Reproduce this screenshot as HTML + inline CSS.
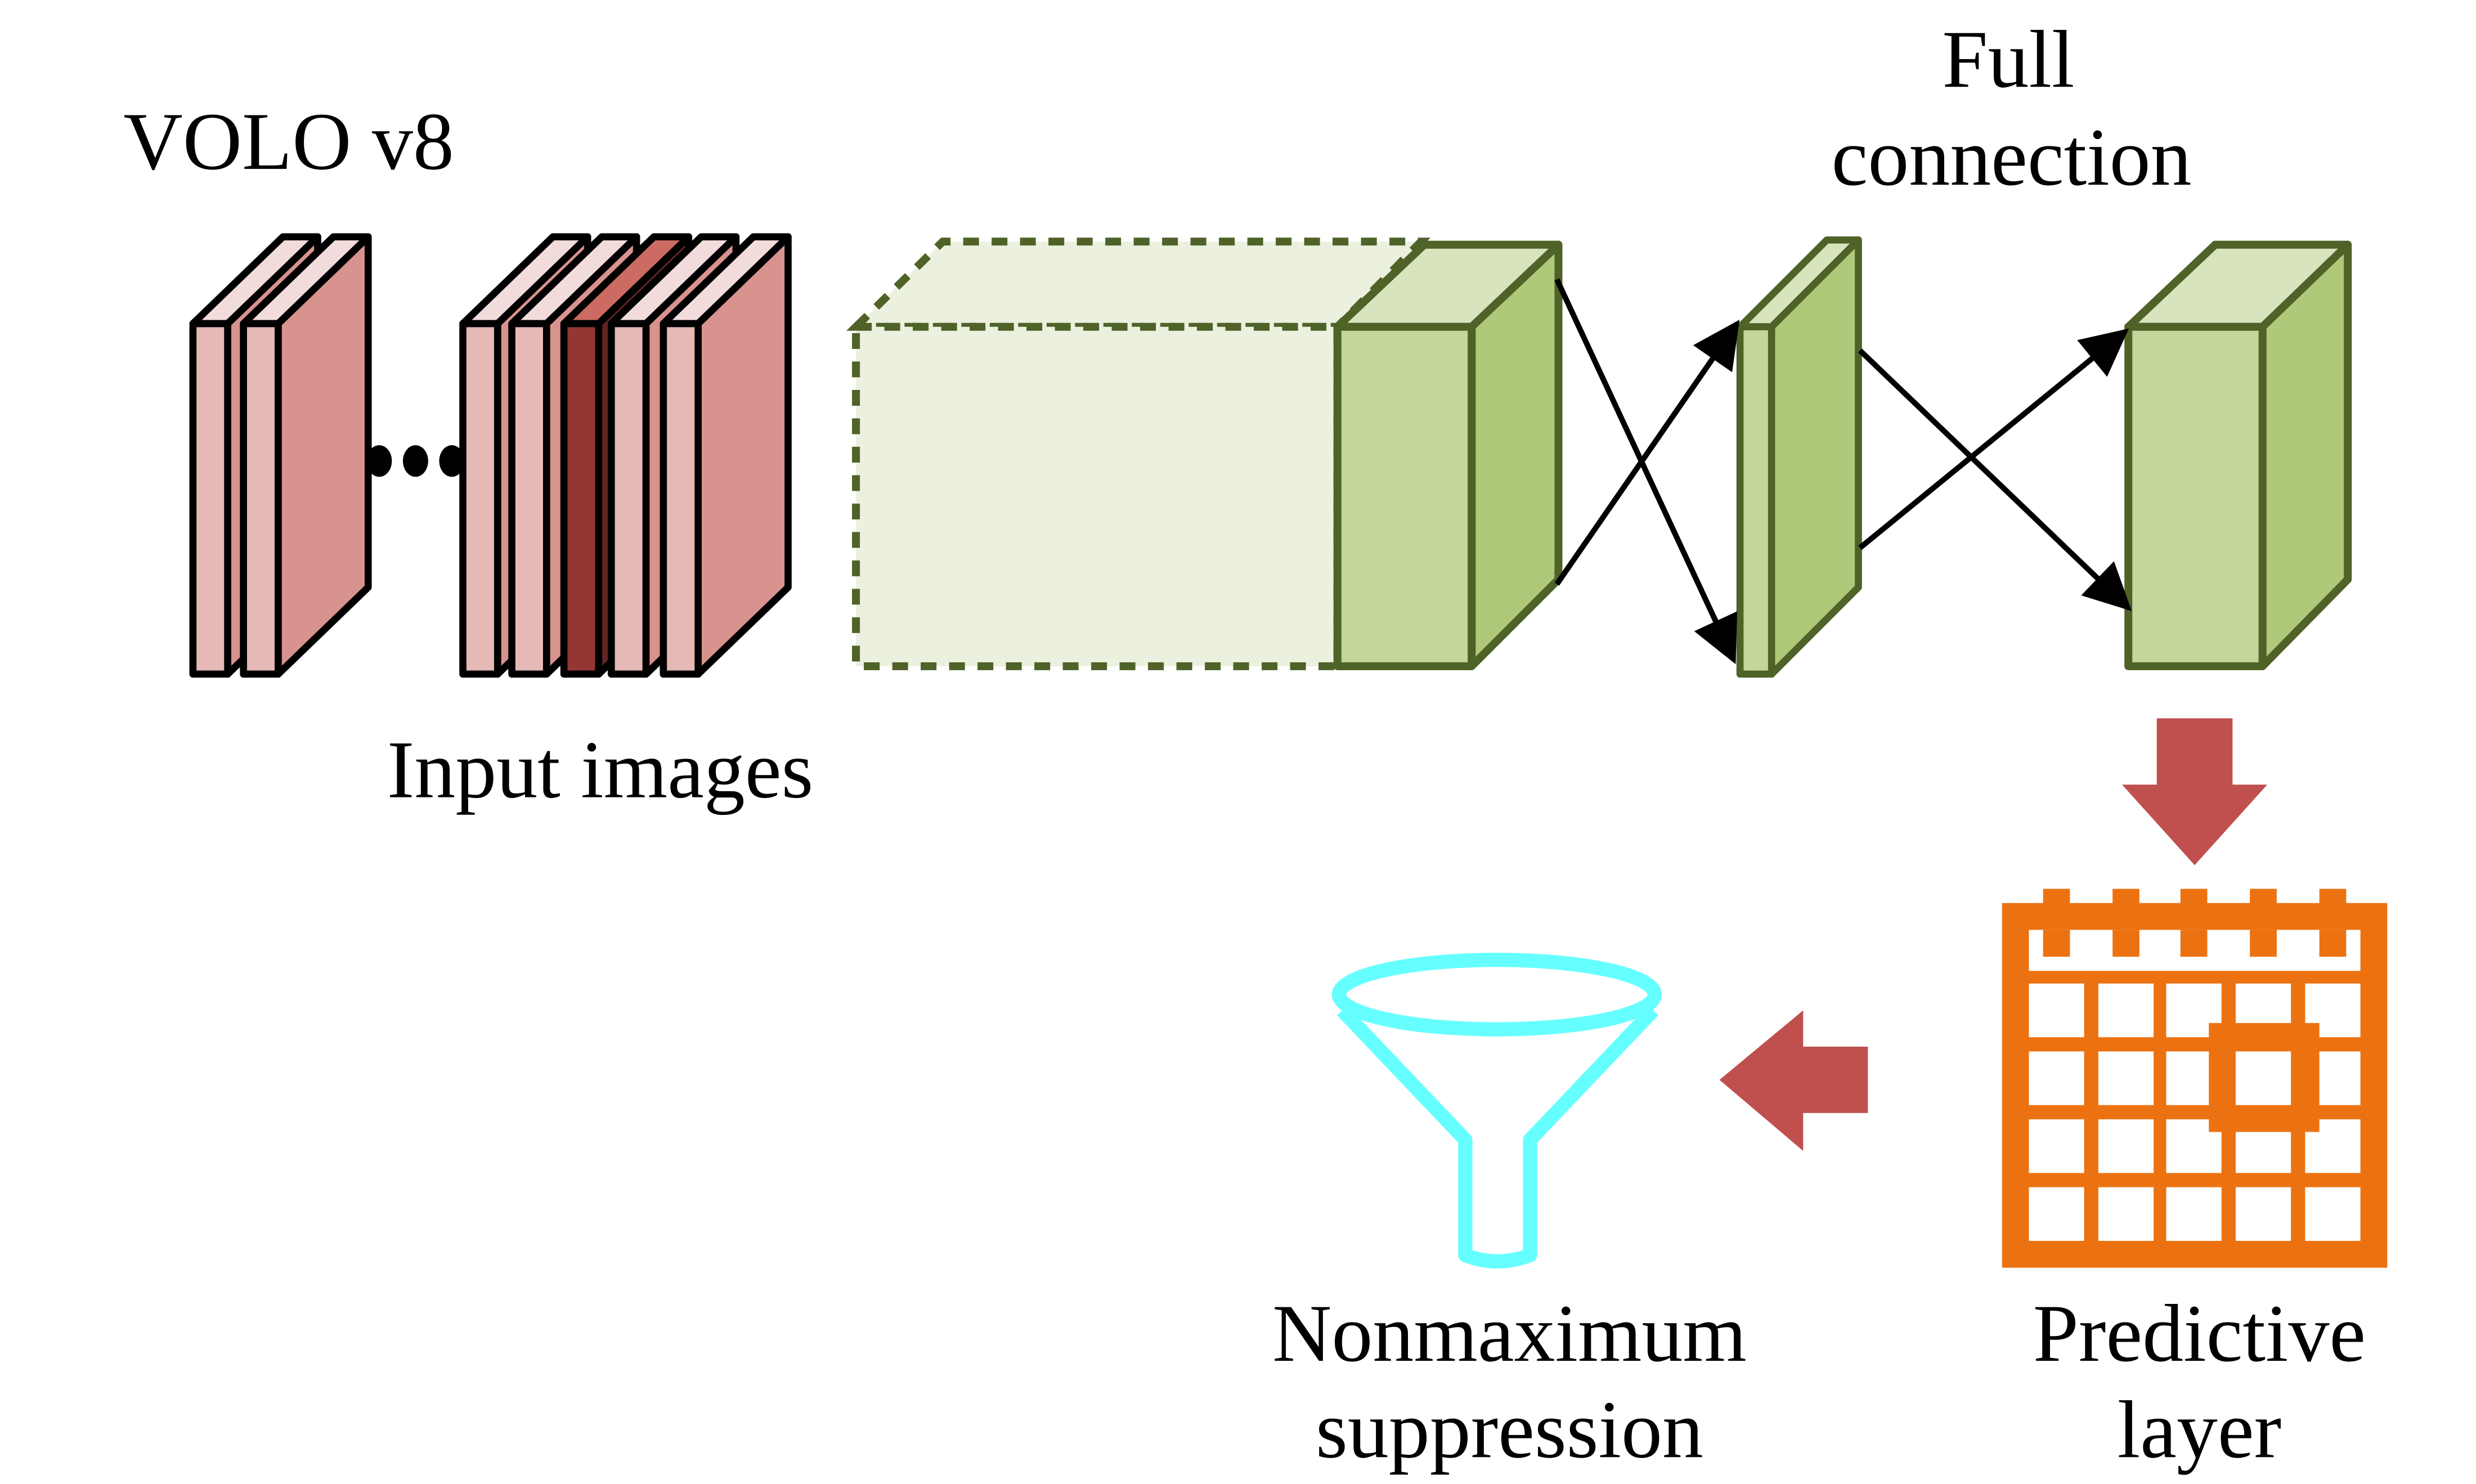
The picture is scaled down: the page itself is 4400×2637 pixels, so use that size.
<!DOCTYPE html>
<html><head><meta charset="utf-8"><style>
html,body{margin:0;padding:0;background:#fff;}
svg{display:block;}
text{font-family:"Liberation Serif",serif;font-size:52px;fill:#000;}
</style></head><body>
<svg width="4400" height="2637" viewBox="0 0 1568 940" xmlns="http://www.w3.org/2000/svg">
<defs>
<marker id="ah" viewBox="0 0 10 10" refX="9" refY="5" markerWidth="44" markerHeight="30" markerUnits="userSpaceOnUse" orient="auto">
<path d="M0,0 L10,5 L0,10 z" fill="#000"/>
</marker>
</defs>
<rect width="1568" height="940" fill="#fff"/>

<text x="78" y="107">VOLO v8</text>
<text x="1272" y="55" text-anchor="middle">Full</text>
<text x="1274" y="117" text-anchor="middle">connection</text>
<text x="380" y="505" text-anchor="middle">Input images</text>
<text x="956" y="862" text-anchor="middle">Nonmaximum</text>
<text x="956" y="923" text-anchor="middle">suppression</text>
<text x="1393" y="862" text-anchor="middle">Predictive</text>
<text x="1393" y="923" text-anchor="middle">layer</text>

<g stroke="#000" stroke-width="4.5" stroke-linejoin="round">
<g>
<polygon points="144,205 201,150 201,372 144,427" fill="#d8938f"/>
<polygon points="122,205 144,205 201,150 179,150" fill="#f2dcdb"/>
<rect x="122" y="205" width="22" height="222" fill="#e6b9b6"/>
</g>
<g>
<polygon points="176,205 233,150 233,372 176,427" fill="#d8938f"/>
<polygon points="154,205 176,205 233,150 211,150" fill="#f2dcdb"/>
<rect x="154" y="205" width="22" height="222" fill="#e6b9b6"/>
</g>
<g>
<polygon points="315,205 372,150 372,372 315,427" fill="#d8938f"/>
<polygon points="293,205 315,205 372,150 350,150" fill="#f2dcdb"/>
<rect x="293" y="205" width="22" height="222" fill="#e6b9b6"/>
</g>
<g>
<polygon points="346,205 403,150 403,372 346,427" fill="#d8938f"/>
<polygon points="324,205 346,205 403,150 381,150" fill="#f2dcdb"/>
<rect x="324" y="205" width="22" height="222" fill="#e6b9b6"/>
</g>
<g>
<polygon points="379,205 436,150 436,372 379,427" fill="#632523"/>
<polygon points="357,205 379,205 436,150 414,150" fill="#cc6b62"/>
<rect x="357" y="205" width="22" height="222" fill="#943634"/>
</g>
<g>
<polygon points="409,205 466,150 466,372 409,427" fill="#d8938f"/>
<polygon points="387,205 409,205 466,150 444,150" fill="#f2dcdb"/>
<rect x="387" y="205" width="22" height="222" fill="#e6b9b6"/>
</g>
<g>
<polygon points="442,205 499,150 499,372 442,427" fill="#d8938f"/>
<polygon points="420,205 442,205 499,150 477,150" fill="#f2dcdb"/>
<rect x="420" y="205" width="22" height="222" fill="#e6b9b6"/>
</g>
</g>
<ellipse cx="240" cy="292" rx="8" ry="10" fill="#000"/>
<ellipse cx="263" cy="292" rx="8" ry="10" fill="#000"/>
<ellipse cx="286" cy="292" rx="8" ry="10" fill="#000"/>

<g stroke="#4f6228" stroke-width="5" stroke-dasharray="10,8" fill="#ebf1de">
<polygon points="542,207 597,153 900,153 847,207"/>
<rect x="542" y="207" width="305" height="215"/>
</g>
<g stroke="#4f6228" stroke-width="5" stroke-linejoin="round">
<polygon points="932,207 987,155 987,367 932,422" fill="#afc87a"/>
<polygon points="847,207 932,207 987,155 902,155" fill="#d7e4bd"/>
<rect x="847" y="207" width="85" height="215" fill="#c3d69b"/>
</g>
<g stroke="#4f6228" stroke-width="4.5" stroke-linejoin="round">
<polygon points="1122,207 1177,152 1177,372 1122,427" fill="#afc87a"/>
<polygon points="1102,207 1122,207 1177,152 1157,152" fill="#d7e4bd"/>
<rect x="1102" y="207" width="20" height="220" fill="#c3d69b"/>
</g>
<g stroke="#4f6228" stroke-width="5" stroke-linejoin="round">
<polygon points="1433,207 1487,155 1487,367 1433,422" fill="#afc87a"/>
<polygon points="1348,207 1433,207 1487,155 1403,155" fill="#d7e4bd"/>
<rect x="1348" y="207" width="85" height="215" fill="#c3d69b"/>
</g>

<g stroke="#000" stroke-width="3.5" fill="none">
<line x1="986" y1="177" x2="1098" y2="418" marker-end="url(#ah)"/>
<line x1="986" y1="370" x2="1100" y2="205" marker-end="url(#ah)"/>
<line x1="1178" y1="222" x2="1348" y2="385" marker-end="url(#ah)"/>
<line x1="1178" y1="347" x2="1346" y2="210" marker-end="url(#ah)"/>
</g>

<polygon points="1366,455 1414,455 1414,497 1436,497 1390,548 1344,497 1366,497" fill="#c0504d"/>
<polygon points="1183,663 1183,705 1142,705 1142,729 1089,684 1142,640 1142,663" fill="#c0504d"/>

<g>
<rect x="1268" y="572" width="244" height="231" fill="#ec7211"/>
<g fill="#ec7211">
<rect x="1294" y="563" width="17" height="43"/>
<rect x="1338" y="563" width="17" height="43"/>
<rect x="1381" y="563" width="17" height="43"/>
<rect x="1425" y="563" width="17" height="43"/>
<rect x="1469" y="563" width="17" height="43"/>
</g>
<rect x="1285" y="589" width="210" height="26" fill="#fff"/>
<g fill="#ec7211">
<rect x="1294" y="589" width="17" height="17"/>
<rect x="1338" y="589" width="17" height="17"/>
<rect x="1381" y="589" width="17" height="17"/>
<rect x="1425" y="589" width="17" height="17"/>
<rect x="1469" y="589" width="17" height="17"/>
</g>
<g fill="#fff">
<rect x="1285" y="623" width="35" height="34"/><rect x="1329" y="623" width="35" height="34"/><rect x="1372" y="623" width="35" height="34"/><rect x="1416" y="623" width="35" height="34"/><rect x="1460" y="623" width="35" height="34"/>
<rect x="1285" y="666" width="35" height="34"/><rect x="1329" y="666" width="35" height="34"/><rect x="1372" y="666" width="35" height="34"/><rect x="1416" y="666" width="35" height="34"/><rect x="1460" y="666" width="35" height="34"/>
<rect x="1285" y="709" width="35" height="34"/><rect x="1329" y="709" width="35" height="34"/><rect x="1372" y="709" width="35" height="34"/><rect x="1416" y="709" width="35" height="34"/><rect x="1460" y="709" width="35" height="34"/>
<rect x="1285" y="752" width="35" height="34"/><rect x="1329" y="752" width="35" height="34"/><rect x="1372" y="752" width="35" height="34"/><rect x="1416" y="752" width="35" height="34"/><rect x="1460" y="752" width="35" height="34"/>
</g>
<rect x="1399" y="648" width="70" height="69" fill="#ec7211"/>
<rect x="1416" y="666" width="35" height="34" fill="#fff"/>
</g>

<g stroke="#66ffff" stroke-width="9" fill="none" stroke-linejoin="round">
<ellipse cx="948" cy="630" rx="100" ry="22"/>
<path d="M850,640 L928,722 L928,795 Q948,803 969,795 L969,722 L1047,640"/>
</g>
</svg>
</body></html>
